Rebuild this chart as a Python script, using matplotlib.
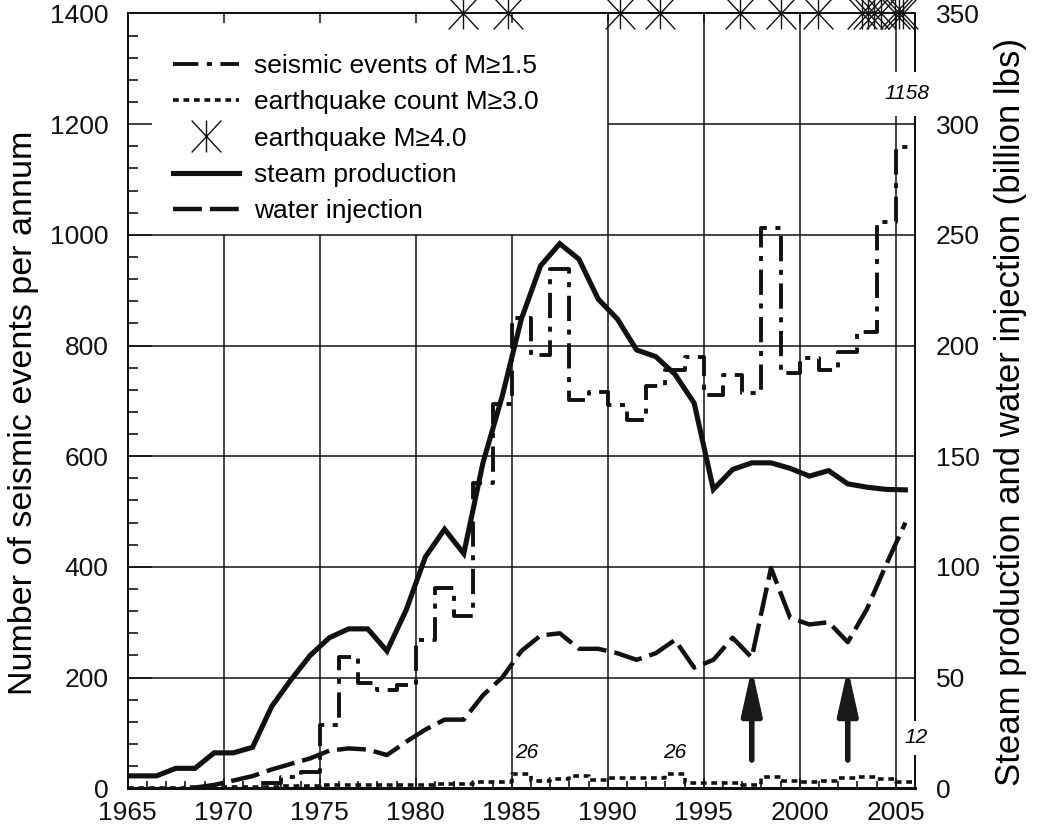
import matplotlib
matplotlib.use("Agg")
import matplotlib.pyplot as plt
from matplotlib.lines import Line2D
from matplotlib.path import Path

plt.rcParams['font.family'] = ['Liberation Sans', 'DejaVu Sans']

# seismic events M>=1.5 per year (left axis, step)
m15_years = list(range(1972, 2006))
m15_counts = [10, 20, 30, 114, 237, 190, 178, 186, 268, 361, 312, 551, 695, 850, 783, 938,
              701, 716, 693, 665, 726, 756, 780, 711, 747, 714, 1012, 750, 777, 756, 789,
              825, 1024, 1158]

# earthquake count M>=3.0 per year (left axis, step)
m3_years = list(range(1965, 2006))
m3_counts = [1, 1, 1, 2, 2, 2, 3, 3, 4, 4, 5, 5, 5, 5, 5, 5, 7, 8, 11, 11, 26, 13, 16, 22,
             15, 19, 19, 18, 26, 10, 10, 9, 5, 21, 13, 12, 13, 18, 20, 16, 12]

# earthquakes M>=4.0 (dates)
m4_dates = [1982.45, 1984.8, 1990.62, 1992.7, 1996.9, 1999.0, 2000.97, 2003.25, 2003.55,
            2003.85, 2004.25, 2004.95, 2005.15, 2005.4]

# steam production (right axis, billion lbs)
steam_years = [1965.0] + [y + 0.5 for y in range(1966, 2006)]
steam = [5.6, 5.6, 9, 9, 16, 16, 18.5, 37, 49, 60, 68, 72, 72, 62, 80.5, 104.5, 117, 106,
         147, 177, 212, 236, 246, 239, 221, 212, 198, 195, 187, 174, 135, 144, 147, 147,
         144.5, 141, 143.5, 137.5, 136, 135, 134.8]

# water injection (right axis, billion lbs)
water_years = [y + 0.5 for y in range(1968, 2006)]
water = [0.3, 1.5, 3.5, 5.5, 8.5, 11, 13.5, 17, 18, 17.5, 15, 21, 26.5, 31, 31, 42, 50, 62,
         69, 70, 63, 63, 61, 58, 61, 67, 54.5, 58, 68, 59, 99.5, 77, 74, 75, 66, 81, 101, 120]

# arrows (year, tail, tip in left-axis units)
arrow_years = [1997.5, 2002.5]
arrow_tail = 51
arrow_tip = 217

dark = '#111111'

fig = plt.figure(figsize=(10.54, 8.36), dpi=100)
ax = fig.add_axes([0.1212, 0.0571, 0.7469, 0.9268])
ax2 = ax.twinx()

ax.set_xlim(1965, 2006)
ax.set_ylim(0, 1400)
ax2.set_ylim(0, 350)

# grid (the legend area in the upper left stays clear)
for x in range(1970, 2006, 5):
    top = 1000 if x < 1990 else 1400
    ax.vlines(x, 0, top, color=dark, lw=1.1, zorder=1)
for y in range(200, 1001, 200):
    ax.hlines(y, 1965, 2006, color=dark, lw=1.1, zorder=1)
ax.hlines(1200, 1990, 2006, color=dark, lw=1.1, zorder=1)

# step series
ax.step(m15_years + [2006], m15_counts + [m15_counts[-1]], where='post', color=dark,
        lw=2.8, linestyle=(0, (6.5, 2.2, 1.3, 2.2)), zorder=3)
ax.step(m3_years + [2006], m3_counts + [m3_counts[-1]], where='post', color=dark,
        lw=2.6, linestyle=(0, (1.6, 1.3)), zorder=3)

# M>=4 stars on the top edge
star = Path([(0, -1), (0, 1), (-0.93, -1), (0.93, 1), (-0.93, 1), (0.93, -1)],
            [Path.MOVETO, Path.LINETO] * 3)
ax.plot(m4_dates, [1400] * len(m4_dates), linestyle='none', marker=star, markersize=23,
        markeredgewidth=1.0, color=dark, clip_on=False, zorder=6)

# steam & water
ax2.plot(steam_years, steam, color=dark, lw=3.7, solid_joinstyle='miter', zorder=3)
ax2.plot(water_years, water, color=dark, lw=3.2, linestyle=(0, (6.5, 1.8)), zorder=3)

# arrows
for xa in arrow_years:
    ax.annotate('', xy=(xa, arrow_tip), xytext=(xa, arrow_tail),
                arrowprops=dict(arrowstyle='-|>,head_length=1.35,head_width=0.3',
                                lw=4, color='#1a1a1a', shrinkA=0, shrinkB=0,
                                mutation_scale=20), zorder=4)

# value labels
ax2.text(1985.8, 65 / 4, '26', fontsize=15, style='italic', ha='center', va='center')
ax2.text(1993.5, 65 / 4, '26', fontsize=15, style='italic', ha='center', va='center')
ax2.text(2006.05, 91 / 4, '12', fontsize=15, style='italic', ha='center', va='center',
         bbox=dict(boxstyle='square,pad=0.35', fc='white', ec='none'), zorder=8,
         clip_on=False)
ax2.text(2005.6, 1255 / 4, '1158', fontsize=15, style='italic', ha='center', va='center',
         bbox=dict(boxstyle='square,pad=0.6', fc='white', ec='none'), zorder=8,
         clip_on=False)

# ticks
ax.set_xticks(range(1965, 2006, 5))
ax.set_xticks(range(1965, 2007), minor=True)
ax.set_yticks(range(0, 1401, 200))
ax.set_yticks(range(0, 1401, 40), minor=True)
ax.tick_params(axis='x', which='major', direction='in', length=7, width=1.1, top=True,
               labelsize=19, pad=9, colors=dark)
ax.tick_params(axis='x', which='minor', direction='in', length=5, width=1.1, top=False)
ax.tick_params(axis='y', which='major', direction='in', length=17, width=1.1,
               labelsize=19, pad=14, colors=dark)
ax.tick_params(axis='y', which='minor', direction='in', length=7, width=1.1)
ax2.set_yticks(range(0, 351, 50))
ax2.tick_params(axis='y', which='both', length=0, labelsize=19, pad=15, colors=dark)

for a in (ax, ax2):
    for s in a.spines.values():
        s.set_linewidth(1.4)
        s.set_color(dark)
ax.spines['bottom'].set_linewidth(2.2)

ax.set_ylabel('Number of seismic events per annum', fontsize=24.5, labelpad=8)
ax2.set_ylabel('Steam production and water injection (billion lbs)', fontsize=25,
               labelpad=10)
ax.yaxis.label.set_y(0.485)
ax2.yaxis.label.set_y(0.485)

handles = [
    Line2D([], [], color=dark, lw=2.8, linestyle=(0, (6.5, 2.2, 1.3, 2.2))),
    Line2D([], [], color=dark, lw=2.6, linestyle=(0, (1.6, 1.3))),
    Line2D([], [], color=dark, linestyle='none', marker=star, markersize=23,
           markeredgewidth=1.0),
    Line2D([], [], color=dark, lw=3.7),
    Line2D([], [], color=dark, lw=3.2, linestyle=(0, (6.5, 1.8))),
]
labels = ['seismic events of M\u22651.5', 'earthquake count M\u22653.0',
          'earthquake M\u22654.0', 'steam production', 'water injection']
ax2.legend(handles, labels, loc='upper left', bbox_to_anchor=(0.057, 0.948),
           frameon=False, fontsize=19, handlelength=2.5, handletextpad=0.6,
           labelspacing=0.47, borderpad=0, borderaxespad=0)

fig.savefig('out.png', dpi=100)
